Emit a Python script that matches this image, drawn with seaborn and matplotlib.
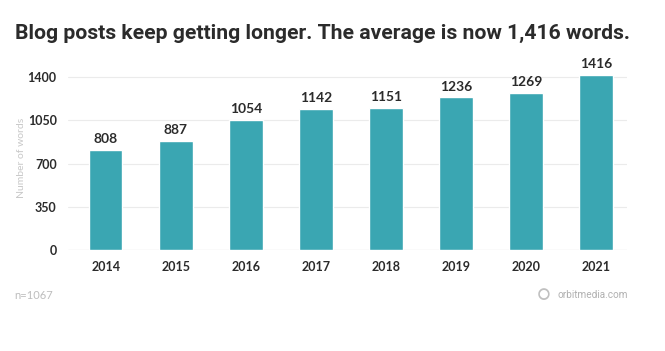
import seaborn as sns
import matplotlib.pyplot as plt
import pandas as pd

years = ["2014", "2015", "2016", "2017", "2018", "2019", "2020", "2021"]
words = [808, 887, 1054, 1142, 1151, 1236, 1269, 1416]
y_ticks = [0, 350, 700, 1050, 1400]

df = pd.DataFrame({"year": years, "words": words})

sns.set_style("white")
plt.rcParams["font.family"] = ["Lato", "DejaVu Sans"]

fig = plt.figure(figsize=(6.65, 3.51), dpi=100)
ax = fig.add_axes([0.102, 0.288, 0.841, 0.527])

sns.barplot(data=df, x="year", y="words", color="#3AA6B2", saturation=1,
            width=0.48, ax=ax, zorder=3)

for i, v in enumerate(words):
    ax.text(i, v + 40, str(v), ha="center", va="bottom", fontsize=10,
            fontweight="bold", color="#2b2b2b", clip_on=False)

ax.set_ylim(0, 1500)
ax.set_xlim(-0.54, 7.44)
ax.set_yticks(y_ticks)
ax.set_yticklabels([str(t) for t in y_ticks], fontsize=9, fontweight="bold", color="#2b2b2b")
for lbl in ax.get_xticklabels():
    lbl.set_fontsize(9)
    lbl.set_fontweight("bold")
    lbl.set_color("#2b2b2b")
ax.tick_params(axis="both", length=0, pad=8)
ax.grid(axis="y", color="#ebebeb", linewidth=0.8, zorder=0)
ax.axhline(0, color="#d8d8d8", linewidth=0.8, zorder=1)
sns.despine(left=True, bottom=True)
ax.set_xlabel("")
ax.set_ylabel("Number of words", fontsize=7.5, color="#c8c8c8", labelpad=1)

fig.text(0.022, 0.905, "Blog posts keep getting longer. The average is now 1,416 words.",
         ha="left", va="center", fontsize=15.2, fontweight="bold", color="#2b2b2b",
         family=["Roboto", "DejaVu Sans"])
fig.text(0.021, 0.157, "n=1067", fontsize=8, color="#bdbdbd", va="center")
fig.text(0.817, 0.16, "\u25CB", fontsize=15, color="#c0c0c0", va="center", ha="center")
fig.text(0.838, 0.16, "orbitmedia.com", fontsize=7.2, color="#b0b0b0", va="center",
         family=["Roboto", "DejaVu Sans"])

fig.savefig("out.png", dpi=100)
